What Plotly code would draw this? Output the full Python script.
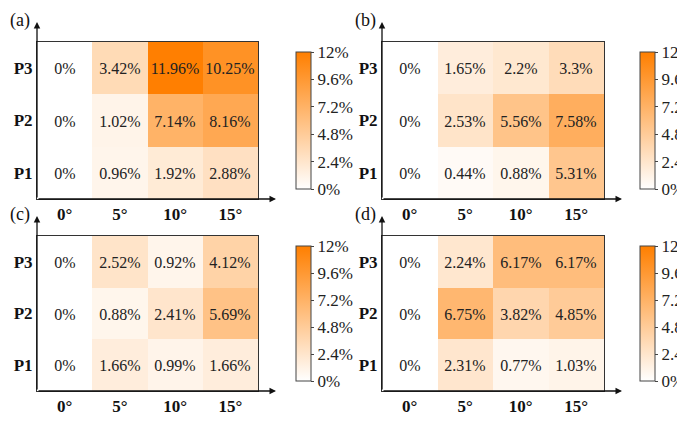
import plotly.graph_objects as go

angles = ["0°", "5°", "10°", "15°"]
rows = ["P1", "P2", "P3"]
panel_a = [[0, 0.96, 1.92, 2.88], [0, 1.02, 7.14, 8.16], [0, 3.42, 11.96, 10.25]]
panel_b = [[0, 0.44, 0.88, 5.31], [0, 2.53, 5.56, 7.58], [0, 1.65, 2.2, 3.3]]
panel_c = [[0, 1.66, 0.99, 1.66], [0, 0.88, 2.41, 5.69], [0, 2.52, 0.92, 4.12]]
panel_d = [[0, 2.31, 0.77, 1.03], [0, 6.75, 3.82, 4.85], [0, 2.24, 6.17, 6.17]]
labels = ["(a)", "(b)", "(c)", "(d)"]
cb_ticks = [0, 2.4, 4.8, 7.2, 9.6, 12]
cb_text = ["0%", "2.4%", "4.8%", "7.2%", "9.6%", "12%"]

W, H = 685, 421
FONT = "Liberation Serif"
panels = [panel_a, panel_b, panel_c, panel_d]
xpix = [(29, 250, 278), (374, 596, 622), (29, 250, 278), (374, 596, 622)]
ypix = [(34, 191), (34, 191), (228, 383), (228, 383)]

fig = go.Figure()
layout = {}
for i, z in enumerate(panels):
    x0, x1, cbx = xpix[i]
    y0, y1 = ypix[i]
    n = "" if i == 0 else str(i + 1)
    txt = [[("%g%%" % v) for v in r] for r in z]
    fig.add_trace(go.Heatmap(
        z=z, x=angles, y=rows, text=txt, texttemplate="%{text}",
        textfont=dict(family=FONT, size=16, color="#222"),
        zmin=0, zmax=12, colorscale=[[0, "#ffffff"], [1, "#ff7f00"]],
        xaxis="x" + n, yaxis="y" + n, xgap=0, ygap=0,
        colorbar=dict(x=cbx / W, xanchor="left", y=1 - (y0 + y1) / 2 / H, yanchor="middle",
                      len=(y1 - y0) / H, lenmode="fraction", thickness=15,
                      outlinewidth=1, outlinecolor="#444",
                      tickvals=cb_ticks, ticktext=cb_text, ticks="outside", ticklen=3,
                      tickfont=dict(family=FONT, size=17, color="#222")),
    ))
    layout["xaxis" + n] = dict(domain=[x0 / W, x1 / W], anchor="y" + n, showgrid=False,
                               tickfont=dict(family=FONT, size=17, color="#111"),
                               ticks="", mirror=True, showline=True, linecolor="#333",
                               linewidth=1, tickprefix="<b>", ticksuffix="</b>", automargin=False)
    layout["yaxis" + n] = dict(domain=[1 - y1 / H, 1 - y0 / H], anchor="x" + n, showgrid=False,
                               tickfont=dict(family=FONT, size=17, color="#111"),
                               ticks="", mirror=True, showline=True, linecolor="#333",
                               linewidth=1, tickprefix="<b>", ticksuffix="</b>", automargin=False)
    fig.add_annotation(x=x0 / W, y=1 - (y0 - 20) / H, xref="paper", yref="paper",
                       ax=0, ay=(y1 - y0) + 20, showarrow=True, arrowhead=2, arrowsize=1,
                       arrowwidth=1.3, arrowcolor="#111", text="")
    fig.add_annotation(x=(x1 + 18) / W, y=1 - y1 / H, xref="paper", yref="paper",
                       ax=-(x1 - x0) - 18, ay=0, showarrow=True, arrowhead=2, arrowsize=1,
                       arrowwidth=1.3, arrowcolor="#111", text="")
    fig.add_annotation(x=(x0 - 29) / W, y=1 - (y0 - 34) / H, xref="paper", yref="paper",
                       xanchor="left", yanchor="top", showarrow=False, text=labels[i],
                       font=dict(family=FONT, size=18, color="#111"))

fig.update_layout(width=W, height=H, margin=dict(l=0, r=0, t=0, b=0, autoexpand=False),
                  plot_bgcolor="white", paper_bgcolor="white", **layout)
fig.write_html("out.html")
